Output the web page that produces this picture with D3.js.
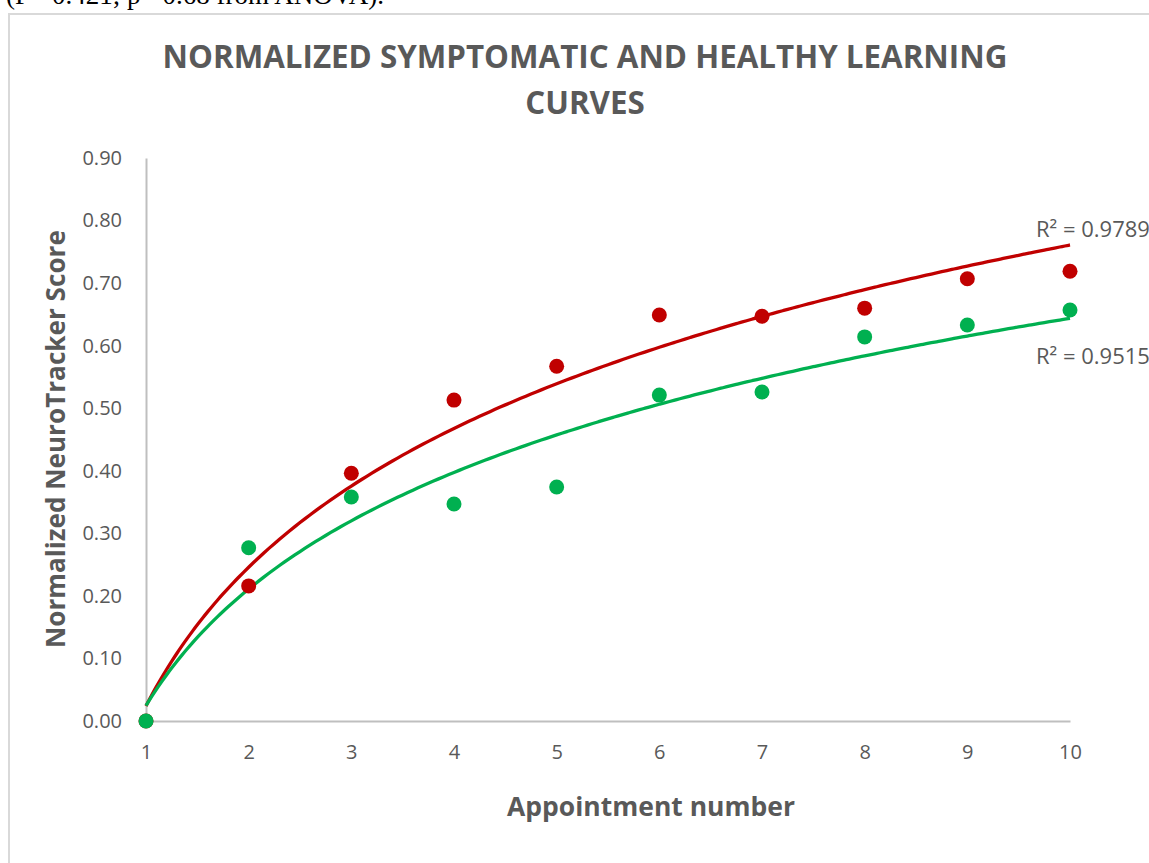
<!DOCTYPE html>
<html>
<head>
<meta charset="utf-8">
<script src="https://cdn.jsdelivr.net/npm/d3@7"></script>
<style>
  body { margin: 0; background: #fff; }
  svg { display: block; }
</style>
</head>
<body>
<svg id="chart"></svg>
<script>
/* データ */
let appointments = [1, 2, 3, 4, 5, 6, 7, 8, 9, 10];
let symptomatic = [0.000, 0.216, 0.396, 0.513, 0.567, 0.649, 0.647, 0.660, 0.707, 0.719];
let healthy = [0.000, 0.277, 0.358, 0.347, 0.374, 0.521, 0.526, 0.614, 0.633, 0.657];
let yTicks = [0, 0.1, 0.2, 0.3, 0.4, 0.5, 0.6, 0.7, 0.8, 0.9];
let r2Labels = ["R² = 0.9789", "R² = 0.9515"];
let titleLines = ["NORMALIZED SYMPTOMATIC AND HEALTHY LEARNING", "CURVES"];

let width = 1149;
let height = 863;
let font = "'Open Sans', 'DejaVu Sans', sans-serif";
let grey = "#595959";

let svg = d3.select("#chart")
  .attr("width", width)
  .attr("height", height);

/* 上の本文の切れ端 */
svg.append("text")
  .attr("x", 6)
  .attr("y", 4)
  .attr("font-family", "'Liberation Serif', serif")
  .attr("font-size", 27)
  .attr("fill", "#000")
  .text("(F= 0.421; p= 0.68 from ANOVA).");

/* チャート枠 */
svg.append("rect")
  .attr("x", 9)
  .attr("y", 14)
  .attr("width", 1200)
  .attr("height", 900)
  .attr("fill", "none")
  .attr("stroke", "#d9d9d9")
  .attr("stroke-width", 2);

/* スケール */
let xScale = d3.scaleLinear()
  .domain([1, 10])
  .range([146, 1070]);
let yScale = d3.scaleLinear()
  .domain([0, 0.9])
  .range([721, 158]);

/* 幅に合わせて文字サイズを決める */
function fitText(sel, target) {
  let w = sel.node().getComputedTextLength();
  let fs = parseFloat(sel.attr("font-size"));
  sel.attr("font-size", fs * target / w);
}

/* タイトル */
let t1 = svg.append("text")
  .attr("x", 585).attr("y", 68)
  .attr("text-anchor", "middle")
  .attr("font-family", font).attr("font-weight", "bold")
  .attr("font-size", 28).attr("fill", grey)
  .text(titleLines[0]);
fitText(t1, 845);
let fsTitle = t1.attr("font-size");
svg.append("text")
  .attr("x", 585).attr("y", 114)
  .attr("text-anchor", "middle")
  .attr("font-family", font).attr("font-weight", "bold")
  .attr("font-size", fsTitle).attr("fill", grey)
  .text(titleLines[1]);

/* x 軸 */
let xAxis = svg.append("g")
  .attr("transform", "translate(0," + yScale(0) + ")")
  .call(d3.axisBottom(xScale).tickValues(appointments).tickSize(0).tickPadding(24));
xAxis.select(".domain").attr("stroke", "#bfbfbf").attr("stroke-width", 2);
xAxis.selectAll("text")
  .attr("font-family", font).attr("font-size", 20).attr("fill", grey);

/* y 軸 */
let yAxis = svg.append("g")
  .attr("transform", "translate(" + xScale(1) + ",0)")
  .call(d3.axisLeft(yScale).tickValues(yTicks).tickFormat(d3.format(".2f")).tickSize(0).tickPadding(24));
yAxis.select(".domain").attr("stroke", "#bfbfbf").attr("stroke-width", 2);
yAxis.selectAll("text")
  .attr("font-family", font).attr("font-size", 20).attr("fill", grey);

/* 軸タイトル */
let xt = svg.append("text")
  .attr("x", 651).attr("y", 816)
  .attr("text-anchor", "middle")
  .attr("font-family", font).attr("font-weight", "bold")
  .attr("font-size", 24).attr("fill", grey)
  .text("Appointment number");
fitText(xt, 288);

let yt = svg.append("text")
  .attr("transform", "translate(65,439) rotate(-90)")
  .attr("text-anchor", "middle")
  .attr("font-family", font).attr("font-weight", "bold")
  .attr("font-size", 24).attr("fill", grey)
  .text("Normalized NeuroTracker Score");
fitText(yt, 418);

/* 対数近似 y = a ln(x) + b */
function logFit(xs, ys) {
  let lx = xs.map(Math.log);
  let mx = d3.mean(lx), my = d3.mean(ys);
  let sxy = d3.sum(lx, (l, i) => (l - mx) * (ys[i] - my));
  let sxx = d3.sum(lx, l => (l - mx) * (l - mx));
  let a = sxy / sxx;
  return { a: a, b: my - a * mx };
}

let series = [
  { values: symptomatic, color: "#c00000", label: r2Labels[0], ly: 237 },
  { values: healthy, color: "#00b050", label: r2Labels[1], ly: 364 }
];

let line = d3.line()
  .x(d => xScale(d[0]))
  .y(d => yScale(d[1]))
  .curve(d3.curveMonotoneX);

let xs = d3.range(1, 10.001, 0.05);

series.forEach(s => {
  let f = logFit(appointments, s.values);
  svg.append("path")
    .datum(xs.map(x => [x, f.a * Math.log(x) + f.b]))
    .attr("d", line)
    .attr("fill", "none")
    .attr("stroke", s.color)
    .attr("stroke-width", 3.3);
});

/* 点（赤を先に、緑を上に描く） */
series.forEach(s => {
  svg.append("g").selectAll("circle")
    .data(s.values)
    .join("circle")
    .attr("cx", (d, i) => xScale(appointments[i]))
    .attr("cy", d => yScale(d))
    .attr("r", 7.5)
    .attr("fill", s.color);
});

/* R² ラベル */
series.forEach(s => {
  let t = svg.append("text")
    .attr("x", 1036).attr("y", s.ly)
    .attr("font-family", font).attr("font-size", 19).attr("fill", grey)
    .text(s.label);
  fitText(t, 114);
});
</script>
</body>
</html>
